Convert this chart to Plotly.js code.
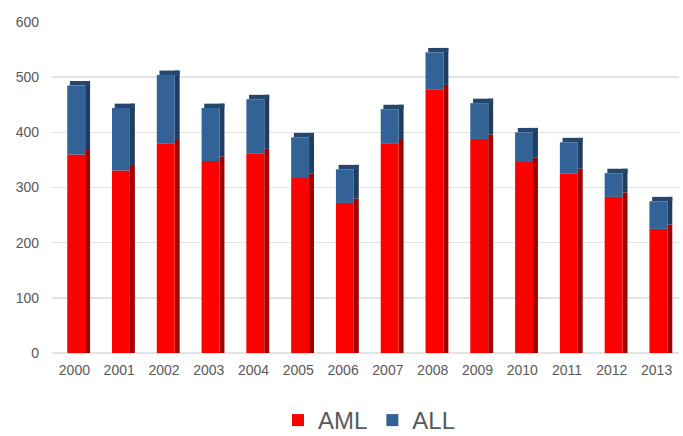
<!DOCTYPE html>
<html>
<head>
<meta charset="utf-8">
<script src="https://cdn.plot.ly/plotly-3.0.1.min.js"></script>
<style>html,body{margin:0;padding:0;background:#fff;overflow:hidden;}#chart{width:683px;height:443px;}</style>
</head>
<body>
<div id="chart"></div>
<script>
const years = ["2000","2001","2002","2003","2004","2005","2006","2007","2008","2009","2010","2011","2012","2013"];
const aml = [360, 331, 380, 348, 362, 317, 272, 380, 478, 388, 346, 326, 283, 225];
const all = [125, 113, 124, 96, 98, 74, 61, 62, 67, 65, 54, 56, 43, 50];
const yTicks = [0, 100, 200, 300, 400, 500, 600];

const total = aml.map((v, i) => v + all[i]);
const depth = 8; // visual 3D depth in axis units
const frontOffset = -0.16, frontWidth = 0.4, sideWidth = 0.11;

const traces = [
  // side faces (darker)
  {type:'bar', x:years, y:aml.map(v => v + depth), base:0, offset:frontOffset + frontWidth, width:sideWidth,
   marker:{color:'#A30000'}, showlegend:false, hoverinfo:'skip'},
  {type:'bar', x:years, y:all, base:aml.map(v => v + depth), offset:frontOffset + frontWidth, width:sideWidth,
   marker:{color:'#1F3D60'}, showlegend:false, hoverinfo:'skip'},
  // top faces
  {type:'bar', x:years, y:years.map(() => depth), base:total, offset:frontOffset + 0.06, width:frontWidth + sideWidth - 0.06,
   marker:{color:'#24476F'}, showlegend:false, hoverinfo:'skip'},
  // front faces
  {type:'bar', name:'AML', x:years, y:aml, base:0, offset:frontOffset, width:frontWidth,
   marker:{color:'#FF0000'}},
  {type:'bar', name:'ALL', x:years, y:all, base:aml, offset:frontOffset, width:frontWidth,
   marker:{color:'#336396'}}
];

const layout = {
  width:683, height:443,
  margin:{l:52, r:4, t:22, b:90},
  paper_bgcolor:'#ffffff', plot_bgcolor:'#ffffff',
  barmode:'overlay',
  showlegend:true,
  font:{family:'Liberation Sans, Arial, sans-serif', color:'#595959'},
  xaxis:{type:'category', range:[-0.5, 13.5], showgrid:false, zeroline:false, showline:false,
         ticks:'outside', ticklen:4, tickcolor:'rgba(0,0,0,0)', tickfont:{size:14, color:'#595959'}, fixedrange:true},
  yaxis:{range:[0, 600], tickvals:yTicks, ticktext:yTicks.map(String), showgrid:true, gridcolor:'#e3e3e3',
         gridwidth:1.5, zeroline:true, zerolinecolor:'#e3e3e3', zerolinewidth:1.5, showline:false,
         ticks:'', ticklabelstandoff:12, tickfont:{size:14, color:'#595959'}, fixedrange:true},
  legend:{orientation:'h', x:0.541, xanchor:'center', xref:'container', y:0, yanchor:'bottom', yref:'container',
          font:{size:24, color:'#595959'}, traceorder:'normal', itemwidth:30, tracegroupgap:0}
};

Plotly.newPlot('chart', traces, layout, {displayModeBar:false, staticPlot:true});
</script>
</body>
</html>
